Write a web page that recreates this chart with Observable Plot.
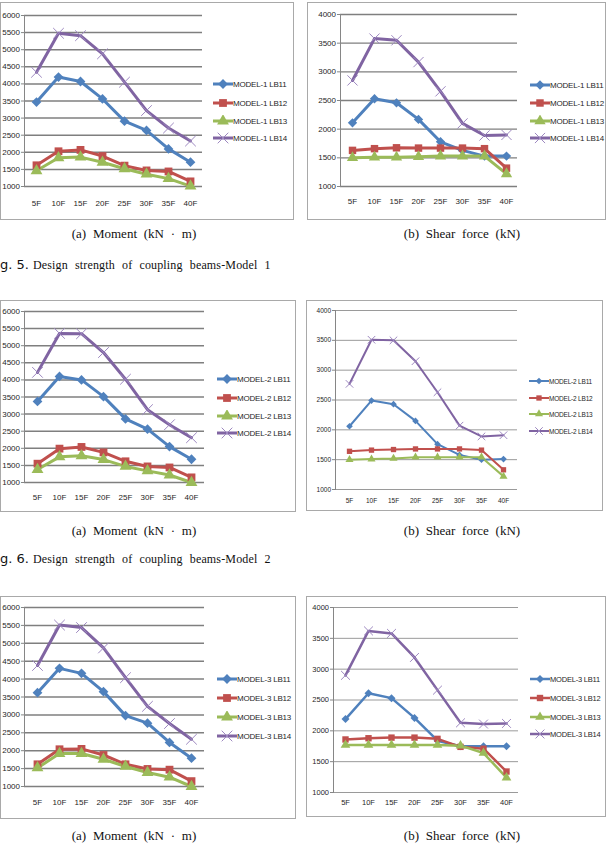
<!DOCTYPE html>
<html>
<head>
<meta charset="utf-8">
<script src="https://cdn.jsdelivr.net/npm/d3@7"></script>
<script src="https://cdn.jsdelivr.net/npm/@observablehq/plot@0.6"></script>
<style>
  html, body { margin: 0; padding: 0; background: #fff; }
  #page { position: relative; width: 607px; height: 850px; overflow: hidden; background: #fff; }
  .frame { position: absolute; box-sizing: border-box; border: 1.5px solid #a9a9a9; background: #fff; }
  .chart { position: absolute; }
  .legend { position: absolute; font-family: "Liberation Sans Narrow", "Liberation Sans", Arial, sans-serif; color: #262626; white-space: nowrap; }
  .legend .row { position: absolute; left: 0; display: flex; align-items: center; }
  .cap { position: absolute; font-family: "Liberation Serif", "Times New Roman", serif; font-size: 13px; word-spacing: 3.5px; color: #111; text-align: center; white-space: nowrap; }
  .fig { position: absolute; white-space: nowrap; color: #111; }
  .fig .no { font-family: "DejaVu Sans", sans-serif; font-size: 13px; }
  .fig .tx { font-family: "Liberation Serif", "Times New Roman", serif; font-size: 12px; word-spacing: 4px; letter-spacing: 0.15px; }
</style>
</head>
<body>
<div id="page"></div>
<script>
// ---------------- data ----------------
const floors = ["5F", "10F", "15F", "20F", "25F", "30F", "35F", "40F"];
const seriesKeys = ["LB11", "LB12", "LB13", "LB14"];
const seriesColors = ["#4F81BD", "#C0504D", "#9BBB59", "#8064A2"];
const momentTicks = [1000, 1500, 2000, 2500, 3000, 3500, 4000, 4500, 5000, 5500, 6000];
const shearTicks = [1000, 1500, 2000, 2500, 3000, 3500, 4000];

// rows: LB11, LB12, LB13, LB14 ; columns: 5F..40F
const model1Moment = [
  [3470, 4200, 4070, 3560, 2910, 2640, 2100, 1710],
  [1620, 2030, 2070, 1890, 1610, 1470, 1440, 1150],
  [1460, 1840, 1860, 1710, 1520, 1360, 1230, 1010],
  [4340, 5480, 5410, 4880, 4050, 3220, 2710, 2330]
];
const model1Shear = [
  [2110, 2530, 2460, 2170, 1780, 1630, 1530, 1530],
  [1630, 1660, 1675, 1670, 1670, 1670, 1660, 1320],
  [1500, 1510, 1510, 1520, 1530, 1530, 1530, 1220],
  [2850, 3580, 3550, 3170, 2660, 2100, 1890, 1900]
];
const model2Moment = [
  [3370, 4100, 4000, 3510, 2860, 2560, 2050, 1680],
  [1550, 1990, 2040, 1880, 1620, 1470, 1440, 1150],
  [1380, 1750, 1780, 1670, 1470, 1340, 1220, 1000],
  [4220, 5360, 5350, 4800, 4020, 3130, 2690, 2310]
];
const model2Shear = [
  [2060, 2490, 2430, 2150, 1760, 1580, 1500, 1510],
  [1640, 1660, 1670, 1680, 1680, 1680, 1660, 1330],
  [1500, 1510, 1520, 1540, 1540, 1540, 1540, 1220],
  [2770, 3510, 3500, 3150, 2630, 2070, 1890, 1910]
];
const model3Moment = [
  [3620, 4300, 4160, 3650, 2980, 2770, 2230, 1790],
  [1620, 2040, 2050, 1880, 1620, 1490, 1470, 1150],
  [1520, 1920, 1920, 1760, 1560, 1390, 1260, 1000],
  [4380, 5510, 5440, 4870, 4040, 3240, 2760, 2320]
];
const model3Shear = [
  [2190, 2610, 2530, 2210, 1840, 1750, 1750, 1750],
  [1860, 1880, 1890, 1890, 1870, 1740, 1710, 1340],
  [1770, 1770, 1770, 1770, 1770, 1760, 1640, 1240],
  [2900, 3620, 3580, 3190, 2660, 2130, 2110, 2120]
];

const captionA = "(a) Moment (kN · m)";
const captionB = "(b) Shear force (kN)";
const figTitles = [
  ["g. 5.", "Design strength of coupling beams-Model 1"],
  ["g. 6.", "Design strength of coupling beams-Model 2"]
];

// ---------------- layout ----------------
const panels = [
  {model: 1, values: model1Moment, ticks: momentTicks,
   frame: {l: 0, t: 2, w: 294, h: 218}, plot: {x0: 24, x1: 202, y0: 15, y1: 186}, labelY: 203,
   legend: {x: 213, rows: [84, 103, 121, 138]}, lw: 3, r: 4.4, font: 8, grid: "#7f7f7f", gridW: 1.5},
  {model: 1, values: model1Shear, ticks: shearTicks,
   frame: {l: 307, t: 2, w: 299, h: 218}, plot: {x0: 340, x1: 517, y0: 14, y1: 186}, labelY: 201,
   legend: {x: 530, rows: [85, 103, 121, 138]}, lw: 3, r: 4.2, font: 8, grid: "#7f7f7f", gridW: 1.3},
  {model: 2, values: model2Moment, ticks: momentTicks,
   frame: {l: 0, t: 300, w: 296, h: 212}, plot: {x0: 24, x1: 204, y0: 311, y1: 482}, labelY: 497,
   legend: {x: 217, rows: [379, 398, 416, 433]}, lw: 3, r: 4.4, font: 8, grid: "#7f7f7f", gridW: 1.5},
  {model: 2, values: model2Shear, ticks: shearTicks,
   frame: {l: 306, t: 300, w: 297, h: 211}, plot: {x0: 335, x1: 517, y0: 310, y1: 489}, labelY: 501,
   legend: {x: 529, rows: [381, 398, 414, 431]}, lw: 2, r: 3, font: 6.5, grid: "#9a9a9a", gridW: 1},
  {model: 3, values: model3Moment, ticks: momentTicks,
   frame: {l: 0, t: 596, w: 296, h: 223}, plot: {x0: 24, x1: 204, y0: 607, y1: 786}, labelY: 802,
   legend: {x: 217, rows: [679, 698, 717, 736]}, lw: 3, r: 4.4, font: 8, grid: "#7f7f7f", gridW: 1.5},
  {model: 3, values: model3Shear, ticks: shearTicks,
   frame: {l: 306, t: 596, w: 300, h: 221}, plot: {x0: 333, x1: 518, y0: 607, y1: 792}, labelY: 803,
   legend: {x: 530, rows: [679, 698, 717, 734]}, lw: 2.5, r: 3.6, font: 7.5, grid: "#9a9a9a", gridW: 1}
];

const captionRows = [235, 532, 837];
const figRows = [264, 558];

const page = document.getElementById("page");
const tickFont = '"Liberation Sans Narrow", "Liberation Sans", Arial, sans-serif';

function drawPanel(cfg) {
  const data = [];
  cfg.values.forEach((arr, i) => arr.forEach((v, j) =>
    data.push({floor: floors[j], series: seriesKeys[i], value: v})));
  const {l, t, w, h} = cfg.frame;
  const {x0, x1, y0, y1} = cfg.plot;

  const frame = document.createElement("div");
  frame.className = "frame";
  Object.assign(frame.style, {left: l + "px", top: t + "px", width: w + "px", height: h + "px"});
  page.appendChild(frame);

  const chart = Plot.plot({
    width: w, height: h,
    marginLeft: x0 - l, marginRight: l + w - x1, marginTop: y0 - t, marginBottom: t + h - y1,
    style: {fontFamily: tickFont, fontSize: cfg.font + "px", color: "#262626", background: "transparent", overflow: "visible"},
    x: {type: "point", domain: floors, padding: 0.5, label: null},
    y: {domain: [cfg.ticks[0], cfg.ticks[cfg.ticks.length - 1]], label: null},
    color: {domain: seriesKeys, range: seriesColors},
    symbol: {domain: seriesKeys, range: ["diamond2", "square", "triangle", "times"]},
    marks: [
      Plot.gridY({ticks: cfg.ticks, stroke: cfg.grid, strokeOpacity: 1, strokeWidth: cfg.gridW}),
      Plot.axisY({ticks: cfg.ticks, tickSize: 3, tickPadding: 1.5, label: null, stroke: "#868686", tickFormat: d => String(d)}),
      Plot.axisX({tickSize: 0, tickPadding: cfg.labelY - y1 - cfg.font * 0.45, label: null}),
      Plot.frame({anchor: "left", stroke: "#868686"}),
      Plot.lineY(data, {x: "floor", y: "value", z: "series", stroke: "series", strokeWidth: cfg.lw, strokeLinejoin: "round"}),
      Plot.dot(data.filter(d => d.series !== "LB14"), {x: "floor", y: "value", symbol: "series", fill: "series", r: cfg.r}),
      Plot.dot(data.filter(d => d.series === "LB14"), {x: "floor", y: "value", symbol: "series", stroke: "#9d88c0", strokeWidth: 1, r: cfg.r + 0.5})
    ]
  });
  chart.classList.add("chart");
  Object.assign(chart.style, {left: l + "px", top: t + "px"});
  page.appendChild(chart);

  // legend
  const leg = document.createElement("div");
  leg.className = "legend";
  Object.assign(leg.style, {left: cfg.legend.x + "px", top: "0px", fontSize: cfg.font + "px"});
  const symbols = [d3.symbolDiamond2 || d3.symbolSquare, d3.symbolSquare, d3.symbolTriangle, d3.symbolTimes || d3.symbolCross];
  seriesKeys.forEach((k, i) => {
    const row = document.createElement("div");
    row.className = "row";
    row.style.top = (cfg.legend.rows[i] - 6) + "px";
    row.style.height = "12px";
    const svg = d3.create("svg").attr("width", 20).attr("height", 12);
    svg.append("line").attr("x1", 0).attr("x2", 20).attr("y1", 6).attr("y2", 6)
      .attr("stroke", seriesColors[i]).attr("stroke-width", cfg.lw);
    const size = cfg.r * cfg.r * Math.PI;
    const p = svg.append("path").attr("transform", "translate(10,6)")
      .attr("d", d3.symbol(symbols[i], i === 3 ? (cfg.r + 0.5) ** 2 * Math.PI : size)());
    if (i === 3) p.attr("fill", "none").attr("stroke", "#9d88c0").attr("stroke-width", 1);
    else p.attr("fill", seriesColors[i]);
    row.appendChild(svg.node());
    const span = document.createElement("span");
    span.textContent = `MODEL-${cfg.model} ${k}`;
    span.style.letterSpacing = "-0.2px";
    row.appendChild(span);
    leg.appendChild(row);
  });
  page.appendChild(leg);
}

panels.forEach(drawPanel);

// captions
captionRows.forEach(y => {
  [[captionA, 134], [captionB, 462]].forEach(([txt, cx]) => {
    const d = document.createElement("div");
    d.className = "cap";
    d.textContent = txt;
    Object.assign(d.style, {left: (cx - 100) + "px", width: "200px", top: (y - 9) + "px"});
    page.appendChild(d);
  });
});
figRows.forEach((y, i) => {
  const d = document.createElement("div");
  d.className = "fig";
  d.innerHTML = `<span class="no"></span> <span class="tx"></span>`;
  d.querySelector(".no").textContent = figTitles[i][0];
  d.querySelector(".tx").textContent = figTitles[i][1];
  Object.assign(d.style, {left: "0px", top: (y - 9) + "px"});
  page.appendChild(d);
});
</script>
</body>
</html>
